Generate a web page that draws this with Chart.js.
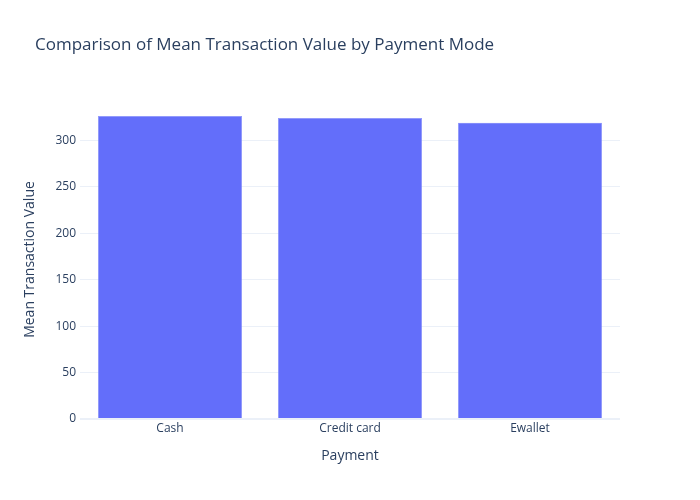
<!DOCTYPE html>
<html><head><meta charset="utf-8">
<script src="https://cdn.jsdelivr.net/npm/chart.js@4"></script>
<style>html,body{margin:0;padding:0;background:#fff}#w{width:700px;height:500px}</style>
</head><body><div id="w"><canvas id="c" width="700" height="500"></canvas></div>
<script>
const categories = ["Cash", "Credit card", "Ewallet"];
const meanValues = [326.18, 324.01, 318.82];
const yTicks = [0, 50, 100, 150, 200, 250, 300];
const titleText = "Comparison of Mean Transaction Value by Payment Mode";
const xTitle = "Payment";
const yTitle = "Mean Transaction Value";

const FONT = '"Open Sans", sans-serif';
const TXT = '#2a3f5f';

const textPlugin = {
  id: 'texts',
  afterDraw(chart) {
    const ctx = chart.ctx, a = chart.chartArea;
    ctx.save();
    ctx.fillStyle = TXT;
    ctx.font = '17px ' + FONT;
    ctx.textAlign = 'left'; ctx.textBaseline = 'middle';
    ctx.fillText(titleText, 35, 45);
    ctx.font = '14px ' + FONT;
    ctx.textAlign = 'center';
    ctx.fillText(xTitle, (a.left + a.right) / 2, 456);
    ctx.translate(30, (a.top + a.bottom) / 2);
    ctx.rotate(-Math.PI / 2);
    ctx.fillText(yTitle, 0, 0);
    ctx.restore();
  }
};

new Chart(document.getElementById('c'), {
  type: 'bar',
  data: {
    labels: categories,
    datasets: [{
      data: meanValues,
      backgroundColor: '#636efa',
      borderColor: '#8890fb',
      borderWidth: 0.5,
      categoryPercentage: 1.0,
      barPercentage: 0.8
    }]
  },
  options: {
    responsive: false,
    animation: false,
    layout: { padding: { left: 0, right: 80, top: 100, bottom: 0 } },
    plugins: { legend: { display: false }, tooltip: { enabled: false }, title: { display: false } },
    scales: {
      x: {
        grid: { display: false, drawTicks: false },
        border: { display: false },
        ticks: { color: TXT, font: { family: FONT, size: 12 }, padding: 2, maxRotation: 0 },
        afterFit(s) { s.height = 81; }
      },
      y: {
        min: 0,
        max: 343.4,
        afterBuildTicks(s) { s.ticks = yTicks.map(v => ({ value: v })); },
        grid: {
          color: '#ebf0f8',
          lineWidth: (c) => c.tick && c.tick.value === 0 ? 2 : 1,
          drawTicks: false
        },
        border: { display: false },
        ticks: { color: TXT, font: { family: FONT, size: 12 }, padding: 4 },
        afterFit(s) { s.width = 80; }
      }
    }
  },
  plugins: [textPlugin]
});
</script>
</body></html>
